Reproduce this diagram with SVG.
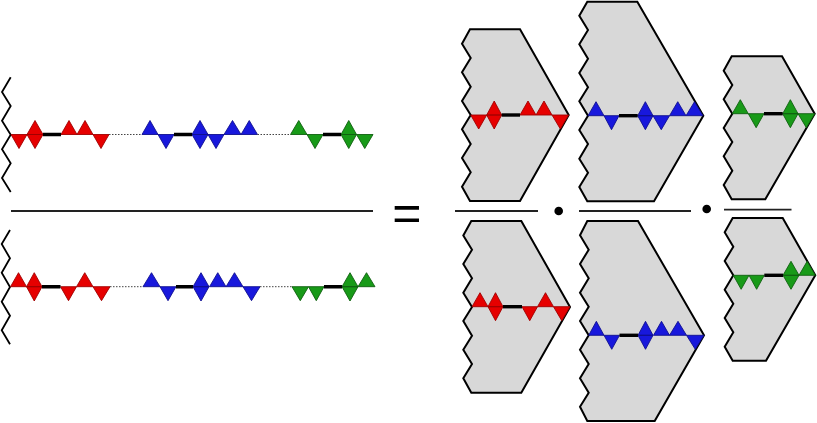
<svg xmlns="http://www.w3.org/2000/svg" width="817" height="423" viewBox="0 0 817 423">
<style>
.z{fill:none;stroke:#000;stroke-width:1.8;stroke-linejoin:miter}
.p{fill:#d8d8d8;stroke:#000;stroke-width:2;stroke-linejoin:miter}
.bar{stroke:#222;stroke-width:1.8;fill:none}
.r{fill:#e60000;stroke:#a00000;stroke-width:.9;stroke-linejoin:miter}
.b{fill:#1818dc;stroke:#101090;stroke-width:.9;stroke-linejoin:miter}
.g{fill:#189a18;stroke:#106010;stroke-width:.9;stroke-linejoin:miter}
.th{stroke:#000;stroke-width:3.4;fill:none}
.da{stroke:#444;stroke-width:1;stroke-dasharray:1.5 1.5;fill:none}
text{font-family:"Liberation Sans",Arial,sans-serif;font-size:50px;fill:#000}
</style>
<g id="left-numerator">
<polyline class="z" points="10.7,77.3 2,92 10.7,106 2,120.7 10.7,134.7 2,149.3 10.7,163.3 2,178 10.7,192"/>
<path class="r" d="M11 134.5H27L19 148.5ZM27 134.5H43L35 148.5ZM27 134.5H43L35 120.5ZM61 134.5H77L69 120.5ZM77 134.5H93L85 120.5ZM93 134.5H109L101 148.5Z"/>
<path class="b" d="M142 134.5H158L150 120.5ZM158 134.5H174L166 148.5ZM192 134.5H208L200 120.5ZM192 134.5H208L200 148.5ZM208 134.5H224L216 148.5ZM224 134.5H241L232.500 120.5ZM241 134.5H257.500L249.250 120.5Z"/>
<path class="g" d="M290.500 134.5H307L298.750 120.5ZM307 134.5H323L315 148.500ZM341 134.5H356.500L348.750 120.5ZM341 134.5H356.500L348.750 148.500ZM356.500 134.5H373L364.750 148.500Z"/>
<path class="th" d="M43 134.500H61M174 134.500H192M323 134.500H341"/>
<path class="da" d="M109 134.500H142M257.500 134.500H290.500"/>
</g>
<g id="left-denominator">
<polyline class="z" points="10,230 1.700,244 10,258.300 1.700,272.700 10,287 1.700,301.700 10,315.700 1.700,330.300 10,344.300"/>
<path class="r" d="M10.500 286.700H26.500L18.500 272.700ZM26.500 286.700H42L34.250 272.700ZM26.500 286.700H42L34.250 301ZM60.500 286.700H76.500L68.500 300.700ZM76.500 286.700H93L84.750 272.700ZM93 286.700H110L101.500 300.700Z"/>
<path class="b" d="M143 286.700H160L151.500 272.700ZM160 286.700H176L168 300.700ZM193 286.700H209L201 272.700ZM193 286.700H209L201 301ZM209.500 286.700H226L217.750 272.700ZM226 286.700H243L234.500 272.700ZM243 286.700H260L251.500 300.700Z"/>
<path class="g" d="M292 286.700H308.500L300.250 300.700ZM308.500 286.700H324L316.250 300.700ZM342 286.700H358L350 272.700ZM342 286.700H358L350 301ZM358 286.700H375L366.500 272.700Z"/>
<path class="th" d="M42 286.700H60.500M176 286.700H193M324 286.700H342"/>
<path class="da" d="M110 286.700H143M260 286.700H292"/>
</g>
<g id="fraction-bar"><line class="bar" x1="11" y1="211" x2="373" y2="211"/></g>
<g id="equals"><text x="406.800" y="229.500" text-anchor="middle">=</text></g>
<g id="panel-1-top">
<polygon class="p" points="470,29.300 520,29.300 568.700,115 520,201 470,201 462,186.700 470.700,172.300 462,158 470.700,144 462,129.300 470.700,115 462,101 470.700,86.700 462,72.300 470.700,58 462,43.700"/>
<path class="r" d="M470.700 115H486.700L478.700 129ZM486.700 115H501.700L494.200 101ZM486.700 115H501.700L494.200 129ZM520 115H536L528 101ZM536 115H552L544 101ZM552 115H568.700L560.350 129Z"/>
<path class="th" d="M501.700 115H520"/>
</g>
<g id="bar-1"><line class="bar" x1="455" y1="211" x2="538" y2="211"/></g>
<g id="dot-1"><circle cx="558.700" cy="211" r="4.300"/></g>
<g id="panel-1-bottom">
<polygon class="p" points="471.300,221 521.300,221 570,307 521.300,392.700 471.300,392.700 463.300,378.300 472,364 463.300,349.700 472,335.700 463.300,321 472,307 463.300,292.700 472,278.300 463.300,264 472,249.700 463.300,235.500"/>
<path class="r" d="M472 306.700H488L480 292.700ZM488 306.700H503L495.500 292.700ZM488 306.700H503L495.500 320.700ZM522 306.700H537.500L529.750 320.700ZM537.500 306.700H553.500L545.500 292.700ZM553.500 306.700H570L561.750 320.700Z"/>
<path class="th" d="M503 306.700H522"/>
</g>
<g id="panel-2-top">
<polygon class="p" points="587.300,1.700 637.300,1.700 703.300,115.700 654,201.300 587.300,201.300 579.300,187 588,172.700 579.300,158.700 588,144 579.300,130 588,115.700 579.300,101.300 588,87.300 579.300,73 588,58.700 579.300,44.300 588,30 579.300,15.700"/>
<path class="b" d="M588 115.700H604L596 101.700ZM604 115.700H619L611.500 129.700ZM637.700 115.700H653L645.350 101.700ZM637.700 115.700H653L645.350 129.700ZM653 115.700H669.500L661.250 129.700ZM669.500 115.700H686L677.750 101.700ZM686 115.700H703L694.500 101.700Z"/>
<path class="th" d="M619 115.700H637.700"/>
</g>
<g id="bar-2"><line class="bar" x1="579" y1="211" x2="691" y2="211"/></g>
<g id="dot-2"><circle cx="706.700" cy="209" r="4.300"/></g>
<g id="panel-2-bottom">
<polygon class="p" points="587.300,221 638,221 704,335.300 654.700,421 587.300,421 580,406.700 588.700,392.700 580,378.300 588.700,364 580,349.700 588.700,335.300 580,321 588.700,306.700 580,292.700 588.700,278.300 580,264 588.700,249.700 580,235.300"/>
<path class="b" d="M588.700 335.300H604L596.350 321.300ZM604 335.300H619.500L611.750 349.300ZM638 335.300H653L645.500 321.300ZM638 335.300H653L645.500 349.300ZM653.500 335.300H669.500L661.500 321.300ZM669.500 335.300H686.500L678 321.300ZM686.500 335.300H704L695.250 349.300Z"/>
<path class="th" d="M619.500 335.300H638"/>
</g>
<g id="panel-3-top">
<polygon class="p" points="731.700,56.300 782,56.300 814.700,113.700 765.300,199.300 731.700,199.300 723.700,185 732.300,170.700 723.700,156.300 732.300,142 723.700,128 732.300,113.700 723.700,99.300 732.300,85 723.700,70.700"/>
<path class="g" d="M732.300 113.700H748.300L740.300 99.700ZM748.300 113.700H764L756.150 127.700ZM782.700 113.700H798L790.350 99.700ZM782.700 113.700H798L790.350 127.700ZM798 113.700H814.700L806.350 127.700Z"/>
<path class="th" d="M764 113.700H782.700"/>
</g>
<g id="bar-3"><line class="bar" x1="724" y1="209.700" x2="791.500" y2="209.700"/></g>
<g id="panel-3-bottom">
<polygon class="p" points="732.700,218 782.700,218 815.300,275.300 766,360.700 732.700,360.700 724.700,346.700 733.300,332.300 724.700,318 733.300,303.700 724.700,289.700 733.300,275.300 724.700,261 733.300,246.700 724.700,232.300"/>
<path class="g" d="M733.300 275.300H749L741.150 289.300ZM749 275.300H764.300L756.650 289.300ZM783 275.300H799L791 261.300ZM783 275.300H799L791 289.300ZM799 275.300H815.300L807.150 261.300Z"/>
<path class="th" d="M764.300 275.300H783"/>
</g>
</svg>
